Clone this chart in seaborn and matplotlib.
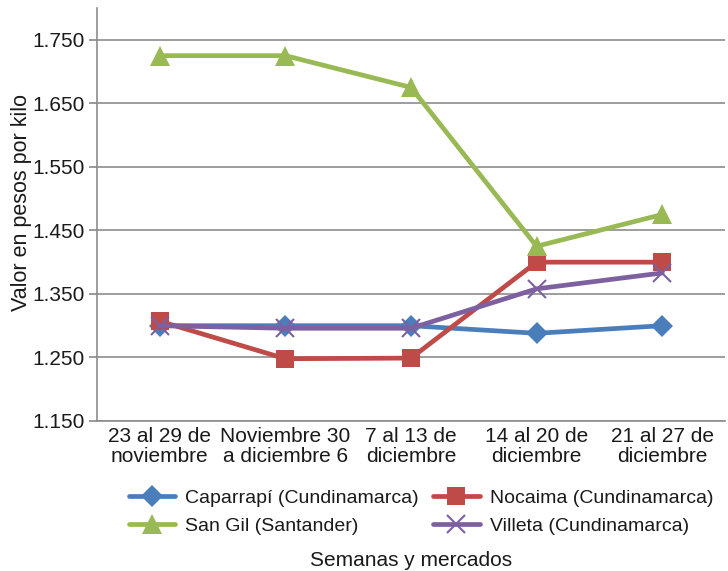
import matplotlib
matplotlib.use("Agg")
import matplotlib.pyplot as plt
import seaborn as sns
import pandas as pd
from matplotlib.ticker import FuncFormatter
from matplotlib.lines import Line2D

categories = ["23 al 29 de\nnoviembre", "Noviembre 30\na diciembre 6", "7 al 13 de\ndiciembre",
              "14 al 20 de\ndiciembre", "21 al 27 de\ndiciembre"]
caparrapi = [1300, 1300, 1300, 1288, 1300]
nocaima = [1307, 1248, 1249, 1400, 1400]
san_gil = [1725, 1725, 1675, 1425, 1475]
villeta = [1300, 1296, 1296, 1358, 1383]
series_names = ["Caparrapí (Cundinamarca)", "Nocaima (Cundinamarca)",
                "San Gil (Santander)", "Villeta (Cundinamarca)"]
y_ticks = [1150, 1250, 1350, 1450, 1550, 1650, 1750]

colors = {series_names[0]: "#4A7EBB", series_names[1]: "#BE4B48",
          series_names[2]: "#98B954", series_names[3]: "#7D60A0"}
markers = {series_names[0]: "D", series_names[1]: "s",
           series_names[2]: "^", series_names[3]: "x"}
msizes = {series_names[0]: 11, series_names[1]: 13, series_names[2]: 14, series_names[3]: 13}

rows = []
for name, vals in zip(series_names, [caparrapi, nocaima, san_gil, villeta]):
    for c, v in zip(categories, vals):
        rows.append({"Semana": c, "Valor": v, "Mercado": name})
df = pd.DataFrame(rows)

sns.set_theme(style="white")
plt.rcParams["font.family"] = ["Liberation Sans", "DejaVu Sans"]

fig = plt.figure(figsize=(7.28, 5.71), dpi=100)
ax = fig.add_axes([97/728, 1-421/571, (725-97)/728, (421-8)/571])

for name in series_names:
    sub = df[df["Mercado"] == name]
    is_x = markers[name] == "x"
    sns.lineplot(data=sub, x="Semana", y="Valor", color=colors[name], marker=markers[name],
                 sort=False, linewidth=3.4, markersize=msizes[name],
                 markeredgewidth=1.5 if is_x else 0, markeredgecolor=colors[name],
                 ax=ax, legend=False)

ax.set_ylim(1150, 1800)
ax.set_xlim(-0.5, 4.5)
ax.set_yticks(y_ticks)
ax.yaxis.set_major_formatter(FuncFormatter(lambda v, p: f"{v/1000:.3f}"))
ax.grid(axis="y", color="#8C8C8C", linewidth=1.2)
ax.set_axisbelow(True)
for s in ["top", "right"]:
    ax.spines[s].set_visible(False)
for s in ["left", "bottom"]:
    ax.spines[s].set_color("#8C8C8C")
    ax.spines[s].set_linewidth(1.2)
ax.tick_params(axis="y", left=True, length=6, color="#8C8C8C", labelsize=15, pad=3,
               labelcolor="#1a1a1a")
ax.tick_params(axis="x", bottom=False, labelsize=15, pad=-2, labelcolor="#1a1a1a")
ax.set_xlabel("")
ax.set_ylabel("Valor en pesos por kilo", fontsize=15.5, color="#1a1a1a")
ax.yaxis.set_label_coords(-0.104, 0.528)
for t in ax.get_xticklabels():
    t.set_linespacing(1.1)

order = [0, 2, 1, 3]  # column-wise fill -> rows: Caparrapí/Nocaima, San Gil/Villeta
handles = []
labels = []
for i in order:
    n = series_names[i]
    h = Line2D([], [], color=colors[n], marker=markers[n], linewidth=3.4, markersize=msizes[n],
               markeredgewidth=1.5 if markers[n] == "x" else 0, markeredgecolor=colors[n])
    handles.append(h)
    labels.append(n)
leg = fig.legend(handles, labels, ncol=2, loc="center", bbox_to_anchor=(0.578, 1 - 512/571),
                 frameon=False, fontsize=14, handlelength=2.4, columnspacing=0.75, labelspacing=0.55,
                 handletextpad=0.5)
for t in leg.get_texts():
    t.set_color("#1a1a1a")
fig.text(0.565, 1 - 561/571, "Semanas y mercados", ha="center", va="center", fontsize=15,
         color="#1a1a1a")

fig.savefig("out.png", dpi=100)
